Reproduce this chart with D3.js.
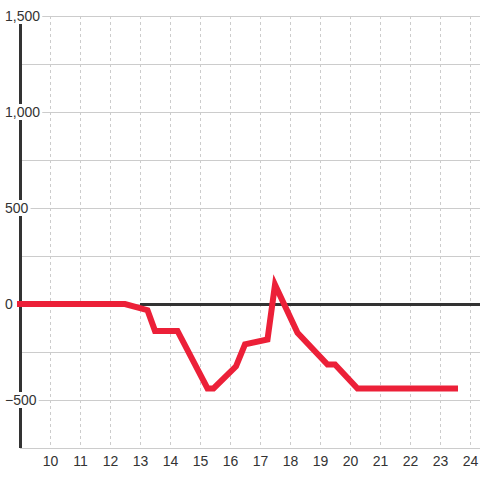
<!DOCTYPE html>
<html>
<head>
<meta charset="utf-8">
<script src="https://cdn.jsdelivr.net/npm/d3@7"></script>
<style>
	html, body { margin: 0; padding: 0; background: #fff; }
	svg { display: block; font-family: "Liberation Sans", Arial, sans-serif; }
</style>
</head>
<body>
<div id="graph"></div>
<script>
// hour of day and value
const hours = [9, 12.5, 13.25, 13.5, 14.25, 15.25, 15.45, 16.2, 16.5, 17.25, 17.5, 18.25, 19.25, 19.5, 20.25, 23.5];
const values = [0, 0, -32, -140, -140, -440, -440, -325, -210, -185, 100, -150, -315, -315, -440, -440];

const x_ticks = [10, 11, 12, 13, 14, 15, 16, 17, 18, 19, 20, 21, 22, 23, 24];
const y_grid = [-750, -500, -250, 0, 250, 500, 750, 1000, 1250, 1500];
const y_labels = [-500, 0, 500, 1000, 1500];

const params = {
		width: 480,
		height: 480,
		left: 20,
		top: 16,
		bottom: 448,
		line_color: "#ec2038",
		line_width: 6,
		axis_color: "#333",
		grid_color: "#cccccc",
		text_color: "#333"
	},
	root_graph = d3.select('#graph');

const x = d3.scaleLinear().domain([9, 24]).range([params.left, params.left + 15 * 30]),
	y = d3.scaleLinear().domain([-750, 1500]).range([params.bottom, params.top]);

const svg = root_graph.append("svg")
	.attr("width", params.width)
	.attr("height", params.height);

svg.append("rect")
	.attr("width", params.width)
	.attr("height", params.height)
	.attr("fill", "#fff");

// horizontal grid
svg.append("g").selectAll("line")
	.data(y_grid)
	.join("line")
	.attr("x1", params.left)
	.attr("x2", params.width)
	.attr("y1", d => Math.round(y(d)) + .5)
	.attr("y2", d => Math.round(y(d)) + .5)
	.attr("stroke", params.grid_color)
	.attr("stroke-width", 1);

// vertical dotted grid
svg.append("g").selectAll("line")
	.data(x_ticks)
	.join("line")
	.attr("x1", d => Math.round(x(d)) + .5)
	.attr("x2", d => Math.round(x(d)) + .5)
	.attr("y1", y(1500))
	.attr("y2", y(-750))
	.attr("stroke", params.grid_color)
	.attr("stroke-width", 1)
	.attr("stroke-dasharray", "3,3");

// zero line (only drawn from 13h on in the original)
svg.append("line")
	.attr("x1", x(13))
	.attr("x2", params.width)
	.attr("y1", y(0) + .5)
	.attr("y2", y(0) + .5)
	.attr("stroke", params.axis_color)
	.attr("stroke-width", 3);

// y axis line
svg.append("line")
	.attr("x1", x(9) + .5)
	.attr("x2", x(9) + .5)
	.attr("y1", y(1500))
	.attr("y2", y(-750))
	.attr("stroke", params.axis_color)
	.attr("stroke-width", 3);

// the series
const line = d3.line()
	.x(d => x(d[0]))
	.y(d => y(d[1]));

svg.append("path")
	.datum(hours.map((h, i) => [h, values[i]]))
	.attr("d", line)
	.attr("fill", "none")
	.attr("stroke", params.line_color)
	.attr("stroke-width", params.line_width)
	.attr("stroke-linecap", "square")
	.attr("stroke-linejoin", "miter");

// x labels
svg.append("g").selectAll("text")
	.data(x_ticks)
	.join("text")
	.attr("x", d => x(d) + .5)
	.attr("y", params.bottom + 18)
	.attr("text-anchor", "middle")
	.attr("font-size", 14)
	.attr("fill", params.text_color)
	.text(d => d);

// y labels sit on top of the axis with a white box behind
const fmt = d3.format(",");
const ylab = svg.append("g").selectAll("g")
	.data(y_labels)
	.join("g");

ylab.append("text")
	.attr("x", 5)
	.attr("y", d => y(d) + 5)
	.attr("font-size", 14)
	.attr("fill", params.text_color)
	.text(d => fmt(d));

ylab.each(function() {
	const g = d3.select(this),
		bb = g.select("text").node().getBBox();
	g.insert("rect", "text")
		.attr("x", bb.x - 2)
		.attr("y", bb.y)
		.attr("width", bb.width + 4)
		.attr("height", bb.height)
		.attr("fill", "#fff");
});
</script>
</body>
</html>
